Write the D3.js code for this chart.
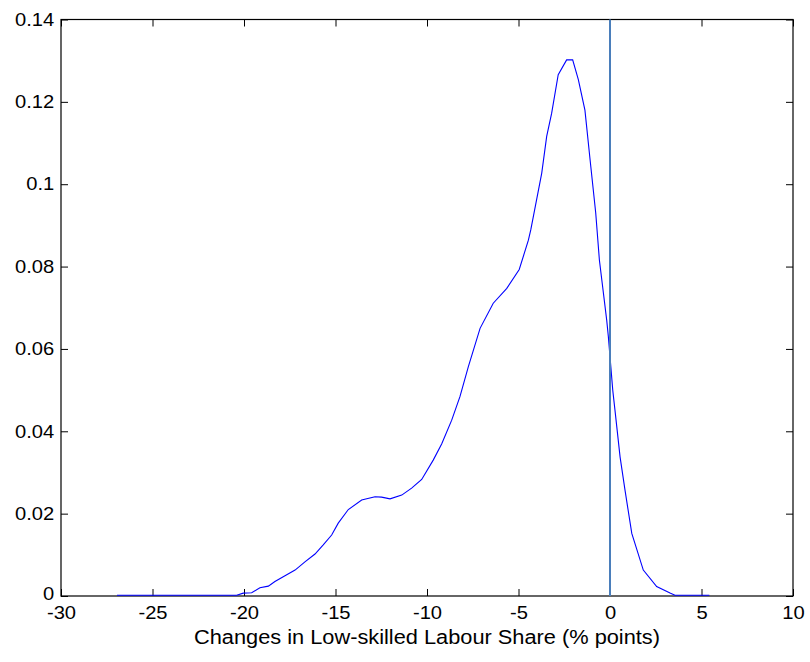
<!DOCTYPE html>
<html>
<head>
<meta charset="utf-8">
<script src="https://cdn.jsdelivr.net/npm/d3@7.9.0/dist/d3.min.js"></script>
<style>
  body { margin: 0; background: #fff; }
  svg text { font-family: Arial, "Liberation Sans", Helvetica, sans-serif; }
</style>
</head>
<body>
<svg id="chart" width="810" height="662"></svg>
<script>
// kernel density
const densityX = [-26.94, -20.40, -20.04, -19.58, -19.13, -18.67, -18.31, -17.76, -17.21, -16.67,
  -16.12, -15.67, -15.21, -14.85, -14.30, -13.57, -12.84, -12.48, -12.02, -11.38,
  -10.84, -10.29, -9.66, -9.20, -8.65, -8.20, -7.74, -7.10, -6.38, -5.64,
  -4.96, -4.46, -4.33, -3.73, -3.46, -3.19, -2.83, -2.37, -2.04, -1.73,
  -1.37, -1.09, -0.78, -0.58, -0.18, -0.09, 0.15, 0.27, 0.55, 0.82,
  1.19, 1.82, 2.55, 3.28, 3.55, 5.43];
const densityY = [0.0002, 0.0002, 0.0007, 0.0008, 0.002, 0.0024, 0.0035, 0.0049, 0.0063, 0.0083,
  0.0102, 0.0124, 0.0148, 0.0177, 0.021, 0.0233, 0.0241, 0.024, 0.0236, 0.0245,
  0.0262, 0.0283, 0.033, 0.0369, 0.0427, 0.0484, 0.0557, 0.065, 0.0711, 0.0747,
  0.0793, 0.0864, 0.0889, 0.1027, 0.1116, 0.1172, 0.1266, 0.1302, 0.1302, 0.1254,
  0.118, 0.106, 0.093, 0.0816, 0.067, 0.063, 0.05, 0.0452, 0.0338, 0.0257,
  0.0152, 0.0063, 0.0023, 0.0007, 0.0002, 0.0002];

const xTicks = [-30, -25, -20, -15, -10, -5, 0, 5, 10];
const yTicks = [0, 0.02, 0.04, 0.06, 0.08, 0.1, 0.12, 0.14];
const zeroLine = [{ x: 0, y: 0 }, { x: 0, y: 0.14 }];
const xLabel = 'Changes in Low-skilled Labour Share (% points)';

const margin = { top: 19.5, right: 17, bottom: 66, left: 61 };
const width = 810, height = 662;

let svg = d3.select('#chart');

let x = d3.scaleLinear().domain([-30, 10]).range([margin.left, width - margin.right]);
let y = d3.scaleLinear().domain([0, 0.14]).range([height - margin.bottom, margin.top]);

let fmtY = (d) => d === 0 ? '0' : String(+d.toFixed(2));

// axes with inward ticks, MATLAB style
svg.append('g')
  .attr('class', 'xaxis')
  .attr('transform', `translate(0,${y(0)})`)
  .call(d3.axisBottom(x).tickValues(xTicks).tickSize(-7).tickPadding(10).tickFormat((d) => String(d)));
svg.append('g')
  .attr('transform', `translate(0,${y(0.14)})`)
  .call(d3.axisTop(x).tickValues(xTicks).tickSize(-7).tickFormat(''));
svg.append('g')
  .attr('class', 'yaxis')
  .attr('transform', `translate(${x(-30)},0)`)
  .call(d3.axisLeft(y).tickValues(yTicks).tickSize(-7).tickPadding(6).tickFormat(fmtY));
svg.append('g')
  .attr('transform', `translate(${x(10)},0)`)
  .call(d3.axisRight(y).tickValues(yTicks).tickSize(-7).tickFormat(''));

svg.selectAll('.domain').remove();
svg.selectAll('.tick line').attr('stroke', '#000');
svg.selectAll('.tick text')
  .attr('font-size', 18)
  .attr('fill', '#000')
  .attr('font-family', 'Arial, "Liberation Sans", sans-serif')
  .attr('transform', 'scale(1.12,1)');
// nudge the y "0" label up a little so it clears "-30"
svg.select('.yaxis').selectAll('.tick text').filter((d) => d === 0).attr('dy', '0.2em');

svg.append('rect')
  .attr('x', x(-30))
  .attr('y', y(0.14))
  .attr('width', x(10) - x(-30))
  .attr('height', y(0) - y(0.14))
  .attr('fill', 'none')
  .attr('stroke', '#000')
  .attr('stroke-width', 1.2);

let line = d3.line().x((d) => x(d.x)).y((d) => y(d.y));
let density = densityX.map((v, i) => ({ x: v, y: densityY[i] }));

svg.append('path')
  .attr('d', line(density))
  .attr('fill', 'none')
  .attr('stroke', '#0000ff')
  .attr('stroke-width', 1.1);

svg.append('path')
  .attr('d', line(zeroLine))
  .attr('fill', 'none')
  .attr('stroke', '#4a7ebb')
  .attr('stroke-width', 2);

svg.append('text')
  .attr('x', (x(-30) + x(10)) / 2)
  .attr('y', 644)
  .attr('text-anchor', 'middle')
  .attr('font-size', 20)
  .attr('textLength', 466)
  .attr('lengthAdjust', 'spacingAndGlyphs')
  .text(xLabel);
</script>
</body>
</html>
